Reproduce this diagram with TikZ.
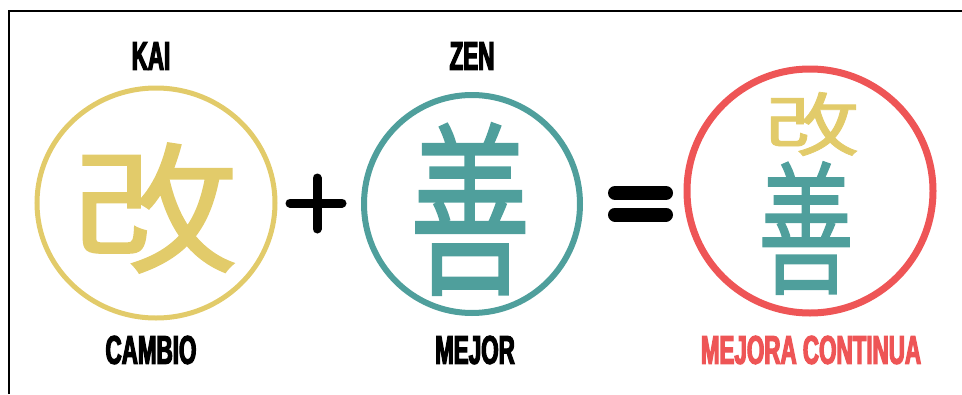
\documentclass[tikz,border=0pt]{standalone}
\usepackage{fontspec}
\newfontfamily\heavy[FakeStretch=0.56,FakeBold=3]{Liberation Sans Bold}
\newfontfamily\cjk[FakeBold=1]{Noto Sans CJK JP}
\definecolor{kaiyellow}{HTML}{E2CB6A}
\definecolor{zenteal}{HTML}{4F9F9C}
\definecolor{mejred}{HTML}{EE5556}
\tikzset{
  word/.style={inner sep=0pt, font=\heavy\fontsize{40}{40}\selectfont},
  ring/.style={line width=#1},
  sym/.style={line width=#1, line cap=round},
  kanji/.style={inner sep=0pt}
}
\begin{document}
\begin{tikzpicture}[x=1pt,y=-1pt]
\useasboundingbox (0,0) rectangle (962,394);
\draw[line width=1.5pt] (9,394) -- (9,11) -- (962,11);
% rings
\draw[ring=5pt, kaiyellow] (156,203) ellipse [x radius=119, y radius=115];
\draw[ring=6pt, zenteal] (472,204) ellipse [x radius=108, y radius=109];
\draw[ring=7pt, mejred] (810,191) ellipse [x radius=123, y radius=122];
% words
\node[word] (kai) at (151,56) {KAI};
\node[word] (zen) at (472,56) {ZEN};
\node[word] (cambio) at (151,350) {CAMBIO};
\node[word] (mejor) at (475,350) {MEJOR};
\node[word, text=mejred] (mejora) at (811,350) {MEJORA CONTINUA};
% kanji
\node[kanji, text=kaiyellow] (k1) at (155,208) {\scalebox{1.18}[1]{\cjk\fontsize{141}{141}\selectfont 改}};
\node[kanji, text=zenteal] (z1) at (470,209) {\scalebox{0.65}[1]{\cjk\fontsize{187}{187}\selectfont 善}};
\node[kanji, text=kaiyellow] (k2) at (812,124) {\scalebox{1.37}[1]{\cjk\fontsize{69}{69}\selectfont 改}};
\node[kanji, text=zenteal] (z2) at (806,228) {\scalebox{0.67}[1]{\cjk\fontsize{144}{144}\selectfont 善}};
% plus
\coordinate (pl) at (290,203); \coordinate (pr) at (342,203);
\coordinate (pt) at (317,178); \coordinate (pb) at (317,229);
\draw[sym=9pt] (pl) -- (pr);
\draw[sym=9pt] (pt) -- (pb);
% equals
\coordinate (e1l) at (615,193); \coordinate (e1r) at (666,193);
\coordinate (e2l) at (615,214.5); \coordinate (e2r) at (666,214.5);
\draw[sym=14pt] (e1l) -- (e1r);
\draw[sym=14pt] (e2l) -- (e2r);
\end{tikzpicture}
\end{document}
